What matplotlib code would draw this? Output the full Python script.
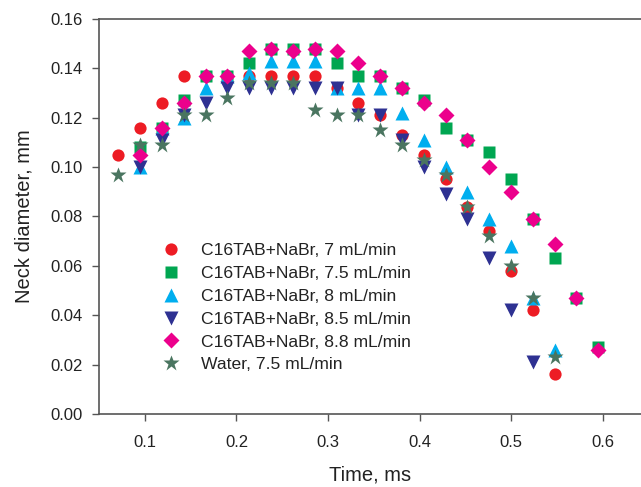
import matplotlib.pyplot as plt
import numpy as np

plt.rcParams['font.family'] = ['Liberation Sans', 'DejaVu Sans']

# time axis: frames at 1/42 ms
t_red = np.array([0.071, 0.095, 0.119, 0.143, 0.167, 0.190, 0.214, 0.238, 0.262, 0.286, 0.310,
                  0.333, 0.357, 0.381, 0.405, 0.429, 0.452, 0.476, 0.500, 0.524, 0.548])
d_red = np.array([0.105, 0.116, 0.126, 0.137, 0.137, 0.137, 0.137, 0.137, 0.137, 0.137, 0.132,
                  0.126, 0.121, 0.113, 0.105, 0.095, 0.084, 0.074, 0.058, 0.042, 0.016])

t_green = np.array([0.095, 0.119, 0.143, 0.167, 0.190, 0.214, 0.238, 0.262, 0.286, 0.310, 0.333,
                    0.357, 0.381, 0.405, 0.429, 0.452, 0.476, 0.500, 0.524, 0.548, 0.571, 0.595])
d_green = np.array([0.108, 0.116, 0.127, 0.137, 0.137, 0.142, 0.148, 0.148, 0.148, 0.142, 0.137,
                    0.137, 0.132, 0.127, 0.116, 0.111, 0.106, 0.095, 0.079, 0.063, 0.047, 0.027])

t_cyan = np.array([0.095, 0.119, 0.143, 0.167, 0.190, 0.214, 0.238, 0.262, 0.286, 0.310, 0.333,
                   0.357, 0.381, 0.405, 0.429, 0.452, 0.476, 0.500, 0.524, 0.548])
d_cyan = np.array([0.100, 0.116, 0.120, 0.132, 0.137, 0.138, 0.143, 0.143, 0.143, 0.132, 0.132,
                   0.132, 0.122, 0.111, 0.100, 0.090, 0.079, 0.068, 0.047, 0.026])

t_navy = np.array([0.095, 0.119, 0.143, 0.167, 0.190, 0.214, 0.238, 0.262, 0.286, 0.310, 0.333,
                   0.357, 0.381, 0.405, 0.429, 0.452, 0.476, 0.500, 0.524])
d_navy = np.array([0.100, 0.111, 0.121, 0.126, 0.132, 0.132, 0.132, 0.132, 0.132, 0.132, 0.121,
                   0.121, 0.111, 0.100, 0.089, 0.079, 0.063, 0.042, 0.021])

t_pink = np.array([0.095, 0.119, 0.143, 0.167, 0.190, 0.214, 0.238, 0.262, 0.286, 0.310, 0.333,
                   0.357, 0.381, 0.405, 0.429, 0.452, 0.476, 0.500, 0.524, 0.548, 0.571, 0.595])
d_pink = np.array([0.105, 0.116, 0.126, 0.137, 0.137, 0.147, 0.148, 0.147, 0.148, 0.147, 0.142,
                   0.137, 0.132, 0.126, 0.121, 0.111, 0.100, 0.090, 0.079, 0.069, 0.047, 0.026])

t_water = np.array([0.071, 0.095, 0.119, 0.143, 0.167, 0.190, 0.214, 0.238, 0.262, 0.286, 0.310,
                    0.333, 0.357, 0.381, 0.405, 0.429, 0.452, 0.476, 0.500, 0.524, 0.548])
d_water = np.array([0.097, 0.109, 0.109, 0.121, 0.121, 0.128, 0.134, 0.134, 0.134, 0.123, 0.121,
                    0.121, 0.115, 0.109, 0.103, 0.097, 0.084, 0.072, 0.060, 0.047, 0.023])

labels = ["C16TAB+NaBr, 7 mL/min", "C16TAB+NaBr, 7.5 mL/min", "C16TAB+NaBr, 8 mL/min",
          "C16TAB+NaBr, 8.5 mL/min", "C16TAB+NaBr, 8.8 mL/min", "Water, 7.5 mL/min"]

fig = plt.figure(figsize=(6.41, 4.87), dpi=100)
ax = fig.add_axes([0.1545, 0.15, 0.8455, 0.811])

ax.plot(t_red, d_red, 'o', color='#ED1C24', ms=8.8, mec='none', label=labels[0])
ax.plot(t_green, d_green, 's', color='#00A651', ms=8, mec='none', label=labels[1])
ax.plot(t_cyan, d_cyan, '^', color='#00AEEF', ms=10, mec='none', label=labels[2])
ax.plot(t_navy, d_navy, 'v', color='#2E3192', ms=10, mec='none', label=labels[3])
ax.plot(t_pink, d_pink, 'D', color='#EC008C', ms=8.5, mec='none', label=labels[4])
ax.plot(t_water, d_water, '*', color='#4A7560', ms=12, mec='none', label=labels[5])

ax.set_xlim(0.05, 0.6415)
ax.set_ylim(0, 0.16)
ax.set_xticks([0.1, 0.2, 0.3, 0.4, 0.5, 0.6])
ax.set_xticklabels(['0.1', '0.2', '0.3', '0.4', '0.5', '0.6'])
ax.set_yticks(np.arange(0, 0.161, 0.02))
ax.set_yticklabels(['%.2f' % v for v in np.arange(0, 0.161, 0.02)])

for s in ['left', 'bottom', 'top']:
    ax.spines[s].set_color('#555555')
    ax.spines[s].set_linewidth(1.2)
ax.spines['right'].set_visible(False)
ax.tick_params(direction='out', length=5, width=1, color='#555555', labelsize=12,
               labelcolor='#222222', pad=7)
ax.tick_params(axis='x', pad=10)

ax.set_xlabel('Time, ms', fontsize=14.5, color='#222222', labelpad=11)
ax.set_ylabel('Neck diameter, mm', fontsize=14.5, color='#222222', labelpad=12)

ax.legend(loc='upper left', bbox_to_anchor=(0.1, 0.45), frameon=False, fontsize=12.6,
          handletextpad=1.15, labelspacing=0.43, borderaxespad=0, handlelength=1.2,
          labelcolor='#222222')

fig.savefig('out.png', dpi=100)
